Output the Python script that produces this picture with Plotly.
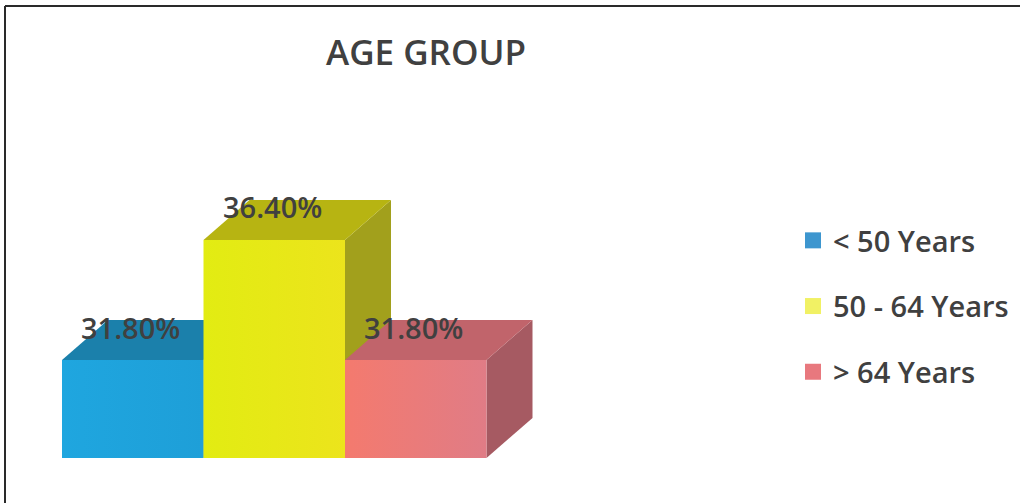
import plotly.graph_objects as go

# ---- data ----
categories = ["< 50 Years", "50 - 64 Years", "> 64 Years"]
values = [31.8, 36.4, 31.8]
labels = ["31.80%", "36.40%", "31.80%"]

# ---- styles ----
front_colors = [["#1fa6df", "#1e9fd8"], ["#e2ec12", "#ece41c"], ["#f47a6e", "#e07c86"]]
top_colors = ["#1b80ab", "#b7b412", "#c1646b"]
side_colors = ["#17698c", "#a2a01c", "#a65a62"]
legend_colors = ["#3d96cf", "#f1f164", "#e8787e"]
TEXT = "#404040"
FONT = "Open Sans"

W, H = 1020, 503
# pixel geometry of the plotting frame
PX_X = 141.5          # pixels per category unit (bar width = 1 unit)
BAR0_LEFT = 62        # pixel x of first bar's left edge
FLOOR_PX = 458        # pixel y of the floor
PX_Y = 26.09          # pixels per value unit
FLOOR = values[0] - (FLOOR_PX - 360) / PX_Y
DEPTH_X = 46 / PX_X
DEPTH_Y = 40 / PX_Y

xr = [-0.5 - BAR0_LEFT / PX_X, -0.5 - BAR0_LEFT / PX_X + W / PX_X]
yr = [FLOOR - (H - FLOOR_PX) / PX_Y, FLOOR + FLOOR_PX / PX_Y]

fig = go.Figure()

for i, v in enumerate(values):
    xl, xrt = i - 0.5, i + 0.5
    # side face
    fig.add_trace(go.Scatter(
        x=[xrt, xrt, xrt + DEPTH_X, xrt + DEPTH_X, xrt],
        y=[FLOOR, v, v + DEPTH_Y, FLOOR + DEPTH_Y, FLOOR],
        mode="lines", fill="toself", fillcolor=side_colors[i],
        line=dict(width=0), showlegend=False, hoverinfo="skip"))
    # top face
    fig.add_trace(go.Scatter(
        x=[xl, xrt, xrt + DEPTH_X, xl + DEPTH_X, xl],
        y=[v, v, v + DEPTH_Y, v + DEPTH_Y, v],
        mode="lines", fill="toself", fillcolor=top_colors[i],
        line=dict(width=0), showlegend=False, hoverinfo="skip"))
    # front face
    fig.add_trace(go.Scatter(
        x=[xl, xrt, xrt, xl, xl],
        y=[FLOOR, FLOOR, v, v, FLOOR],
        mode="lines", fill="toself",
        fillgradient=dict(type="horizontal",
                          colorscale=[[0, front_colors[i][0]], [1, front_colors[i][1]]]),
        line=dict(width=0), name=categories[i], showlegend=False,
        hovertemplate=categories[i] + ": " + labels[i] + "<extra></extra>"))

# legend entries
for i, c in enumerate(categories):
    fig.add_trace(go.Scatter(
        x=[None], y=[None], mode="markers", name=c,
        marker=dict(symbol="square", size=16, color=legend_colors[i]),
        legendgroup=c, showlegend=True))

# value labels
for i, v in enumerate(values):
    fig.add_annotation(x=i, y=v, text=labels[i], showarrow=False,
                       yshift=33, xshift=-2,
                       font=dict(family=FONT, size=29, color=TEXT, weight=600))

fig.update_layout(
    width=W, height=H,
    margin=dict(l=0, r=0, t=0, b=0),
    paper_bgcolor="white", plot_bgcolor="white",
    title=dict(text="AGE GROUP", x=426 / W, xanchor="center",
               y=1 - 53 / H, yanchor="middle",
               font=dict(family=FONT, size=35, color=TEXT, weight=600)),
    xaxis=dict(range=xr, visible=False, fixedrange=True),
    yaxis=dict(range=yr, visible=False, fixedrange=True),
    legend=dict(x=793 / W, y=1 - 215 / H, xanchor="left", yanchor="top",
                font=dict(family=FONT, size=29, color=TEXT, weight=600),
                tracegroupgap=25, bgcolor="rgba(0,0,0,0)"),
    showlegend=True,
)

# frame border (top and left edges, as in the cropped source)
fig.add_shape(type="line", xref="paper", yref="paper",
              x0=5 / W, x1=5 / W, y0=0, y1=1 - 6 / H,
              line=dict(color="#2a2a2a", width=2))
fig.add_shape(type="line", xref="paper", yref="paper",
              x0=5 / W, x1=1, y0=1 - 6 / H, y1=1 - 6 / H,
              line=dict(color="#2a2a2a", width=2))

fig.write_html("out.html", config={"displayModeBar": False},
               post_script="document.body.style.margin='0';document.body.style.overflow='hidden';")
